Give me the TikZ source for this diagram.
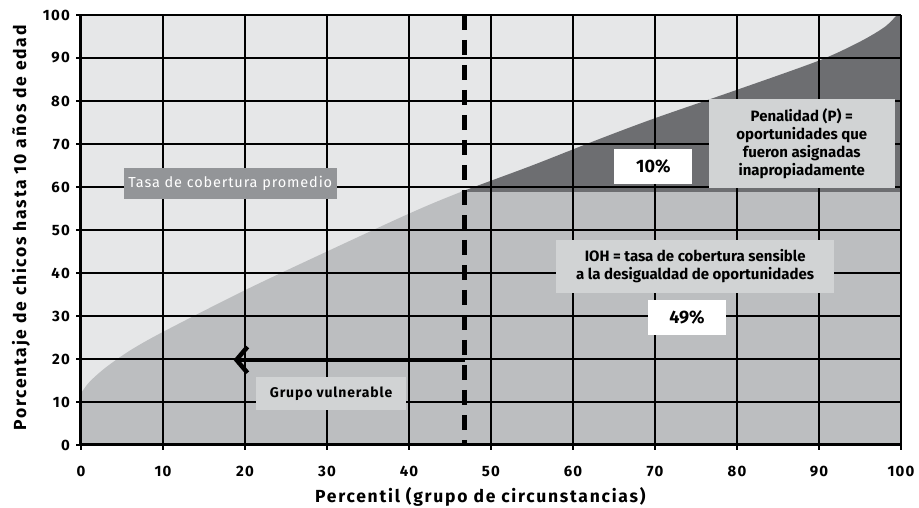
\documentclass[tikz,border=0pt]{standalone}
\usepackage{fontspec}
\setmainfont{Fira Sans}
\usetikzlibrary{arrows.meta}

\definecolor{fondo}{HTML}{E6E7E8}
\definecolor{cobertura}{HTML}{BCBEC0}
\definecolor{penal}{HTML}{6D6E71}
\definecolor{cajagris}{HTML}{D1D3D4}
\definecolor{cajaoscura}{HTML}{939598}

\begin{document}
\begin{tikzpicture}[x=8.2pt, y=4.3pt]

    % Estilos
    \tikzstyle{rejilla} = [line width=1.2pt, black]
    \tikzstyle{eje} = [line width=3pt, black]
    \tikzstyle{marca} = [font=\bfseries\fontsize{15}{18}\selectfont\addfontfeature{LetterSpace=8}, inner sep=0pt]
    \tikzstyle{titulo} = [font=\bfseries\fontsize{17.5}{20}\selectfont\addfontfeature{LetterSpace=10}, inner sep=0pt]
    \tikzstyle{caja} = [fill=cajagris, inner sep=0pt, align=center, font=\bfseries\fontsize{15}{18}\selectfont]
    \tikzstyle{cifra} = [fill=white, inner sep=0pt, minimum width=78pt, minimum height=35pt, font=\bfseries\fontsize{18}{20}\selectfont]
    \tikzstyle{flecha} = [line width=4.5pt, -{Straight Barb[length=11pt,width=26pt]}]

    \useasboundingbox (-81pt,-63pt) rectangle (838pt,445pt);

    % Zonas
    \fill[fondo] (0,0) rectangle (100,100);
    \begin{scope}
        \clip (0,0) -- plot[smooth] coordinates {(0,12) (1,14.6) (3,18) (6,22) (10,26.3) (20,36) (30,45) (40,53.8) (46,58.6) (55,65) (63,71) (70,76) (80,82.6) (90,89.4) (95,93.8) (98,97.2) (99.5,100)} -- (100,100) -- (100,0) -- cycle;
        \fill[cobertura] (0,0) rectangle (100,58.8);
        \fill[penal] (0,58.8) rectangle (100,100);
    \end{scope}

    % Rejilla y ejes
    \foreach \v in {10,20,...,100} {
        \draw[rejilla] (\v,0) -- (\v,100);
        \draw[rejilla] (0,\v) -- (100,\v);
    }
    \foreach \v in {0,10,...,100} {
        \draw[eje, line width=1.5pt] (\v,0) -- ++(0,-5pt);
        \draw[eje, line width=1.5pt] (0,\v) -- ++(-5pt,0);
        \node[marca, anchor=north] at ([yshift=-21pt]\v,0) {\v};
        \node[marca, anchor=east] at ([xshift=-11pt]0,\v) {\v};
    }
    \draw[eje] (0,100) -- (0,0) -- (100,0);

    % Corte
    \coordinate (cortesup) at (46.8,100);
    \coordinate (corteinf) at (46.8,0);
    \coordinate (corte) at (46.8,19.8);
    \coordinate (limite) at (18.6,19.8);
    \draw[line width=5pt, dash pattern=on 15pt off 10pt] (cortesup) -- (corteinf);
    \draw[flecha] (corte) -- (limite);

    % Cajas
    \node (promedio) [fill=cajaoscura, text=white, minimum width=213pt, minimum height=31pt, inner sep=0pt, font=\fontsize{14.5}{18}\selectfont\addfontfeature{LetterSpace=6}] at (18.2,60.8) {Tasa de cobertura promedio};
    \node (diez) [cifra] at (69.8,64.8) {10\%};
    \node (penalidad) [caja, minimum width=186pt, minimum height=89pt] at (87.9,70.1) {Penalidad (P) =\\oportunidades que\\fueron asignadas\\inapropiadamente};
    \node (ioh) [caja, minimum width=278pt, minimum height=53pt] at (74.9,41.5) {IOH = tasa de cobertura sensible\\a la desigualdad de oportunidades};
    \node (cuarentanueve) [cifra] at (73.9,29.7) {49\%};
    \node (vulnerable) [caja, minimum width=150pt, minimum height=33pt, font=\bfseries\fontsize{14}{16}\selectfont\addfontfeature{LetterSpace=6}] at (30.5,12) {Grupo vulnerable};

    % Titulos de ejes
    \node (ejex) [titulo, anchor=base] at (48.7,-13.37) {Percentil (grupo de circunstancias)};
    \node (ejey) [titulo, anchor=base, rotate=90] at (-6.7,50.5) {Porcentaje de chicos hasta 10 años de edad};

\end{tikzpicture}
\end{document}
